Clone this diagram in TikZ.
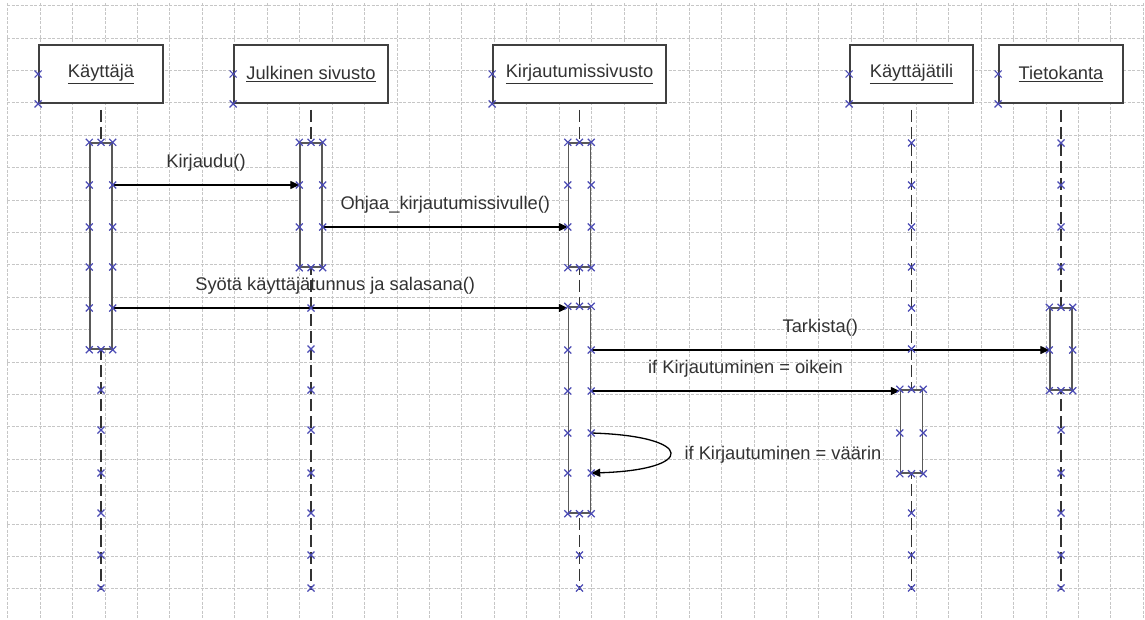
\documentclass[tikz,border=0pt]{standalone}
\usepackage{fontspec}
\setmainfont{Liberation Sans}
\usetikzlibrary{shapes}
\usetikzlibrary{arrows,arrows.meta}
\definecolor{cpblue}{RGB}{75,75,180}
\definecolor{txtgray}{RGB}{50,50,50}

\begin{document}
\begin{tikzpicture}[x=1pt,y=-1pt,font=\fontsize{18.3}{21}\selectfont]
\tikzstyle{msg}=[-{Triangle[length=9pt,width=8pt]},line width=1.3pt]
\tikzset{olio/.style={draw=black!75,line width=1.8pt,fill=white,minimum width=#1,minimum height=58pt,text=txtgray},
olio/.default={124pt},
akt/.style={draw=black!65,line width=1.4pt,fill=white,minimum width=22pt,minimum height=#1,inner sep=0pt},
elama/.style={black!80,line width=1.3pt,dash pattern=on 12pt off 5pt},
ruutu/.style={gray!45,line width=0.7pt,dash pattern=on 3pt off 1.5pt},
teksti/.style={text=txtgray,anchor=base,yshift=18pt},
cpoint/.pic={\draw[cpblue,line width=1.2pt] (-3.5pt,-3.5pt) -- (3.5pt,3.5pt) (-3.5pt,3.5pt) -- (3.5pt,-3.5pt);}}
\fill[white] (0,0) rectangle (1145,619);
\useasboundingbox (0,0) rectangle (1145,619);
% ruudukko
\foreach \i in {0,...,35} \draw[ruutu] (7.5+32.45*\i,3) -- (7.5+32.45*\i,619);
\foreach \j in {0,...,18} \draw[ruutu] (7,5.5+32.4*\j) -- (1145,5.5+32.4*\j);
% oliot
\node[olio] (kay) at (101,74) {\underline{Käyttäjä}};
\node[olio=154pt] (jul) at (311,74) {\underline{Julkinen sivusto}};
\node[olio=173pt] (kir) at (579.5,74) {\underline{Kirjautumissivusto}};
\node[olio=123pt] (tili) at (911.5,74) {\underline{Käyttäjätili}};
\node[olio] (tk) at (1061,74) {\underline{Tietokanta}};
% elamanviivat
\foreach \o in {kay,jul,kir,tili,tk}
  \draw[elama] ([yshift=-6pt]\o.south) -- (\o.south |- 0,590);
% aktivaatiot
\node[akt=206pt] (kayBar) at (kay.south |- 0,246) {};
\node[akt=124pt] (julBar) at (jul.south |- 0,205) {};
\node[akt=124pt] (kirBarA) at (kir.south |- 0,205) {};
\node[akt=206pt] (kirBarB) at (kir.south |- 0,410) {};
\node[akt=83pt] (tiliBar) at (tili.south |- 0,431.5) {};
\node[akt=82pt] (tkBar) at (tk.south |- 0,349) {};
% viestit
\draw[msg] (kayBar.east |- 0,185) -- node[teksti] (m1) {Kirjaudu()} (julBar.west |- 0,185);
\draw[msg] (julBar.east |- 0,227) -- node[teksti] (m2) {Ohjaa\_kirjautumissivulle()} (kirBarA.west |- 0,227);
\draw[msg] (kayBar.east |- 0,308) -- node[teksti,xshift=-5pt] (m3) {Syötä käyttäjätunnus ja salasana()} (kirBarB.west |- 0,308);
\draw[msg] (kirBarB.east |- 0,350) -- node[teksti] (m4) {Tarkista()} (tkBar.west |- 0,350);
\draw[msg] (kirBarB.east |- 0,391) -- node[teksti] (m5) {if Kirjautuminen = oikein} (tiliBar.west |- 0,391);
\draw[msg] (kirBarB.east |- 0,433) .. controls +(105,3) and +(105,-3) .. (kirBarB.east |- 0,473);
\node[text=txtgray,anchor=base west] (m6) at (681,459) {if Kirjautuminen = väärin};
% liitoskohdat
\foreach \o in {kay,jul,kir,tili,tk} {
  \pic at (\o.west) {cpoint};
  \pic at (\o.south west) {cpoint};
}
\foreach \b in {kayBar,julBar,kirBarA,kirBarB,tiliBar,tkBar}
  \foreach \a in {north west,north,north east,south west,south,south east}
    \pic at (\b.\a) {cpoint};
\foreach \b/\ys in {kayBar/{185,227,267,308},julBar/{185,227},kirBarA/{185,227},kirBarB/{350,391,433,473},tiliBar/{433},tkBar/{350}}
  \foreach \y in \ys {
    \pic at (\b.west |- 0,\y) {cpoint};
    \pic at (\b.east |- 0,\y) {cpoint};
  }
\foreach \o/\ys in {kay/{390,430,473,513,555,588},jul/{308,349,390,430,473,513,555,588},kir/{555,588},tili/{143,185,227,267,308,349,513,555,588},tk/{143,185,227,267,430,473,513,555,588}}
  \foreach \y in \ys
    \pic at (\o.south |- 0,\y) {cpoint};
\end{tikzpicture}
\end{document}
